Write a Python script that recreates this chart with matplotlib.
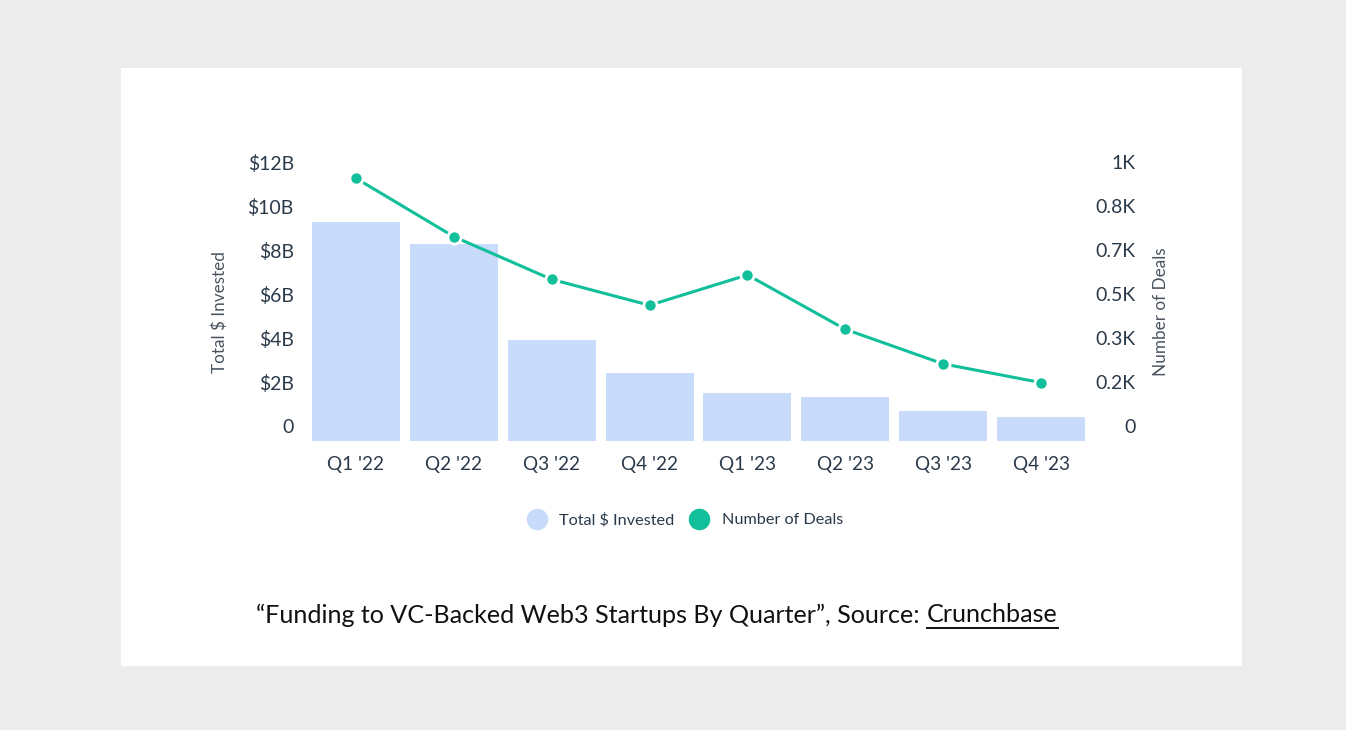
import numpy as np
import matplotlib
matplotlib.use("Agg")
import matplotlib.pyplot as plt
from matplotlib.lines import Line2D
from matplotlib.patches import Rectangle
from matplotlib.transforms import ScaledTranslation

quarters = ["Q1 '22", "Q2 '22", "Q3 '22", "Q4 '22", "Q1 '23", "Q2 '23", "Q3 '23", "Q4 '23"]
invested_b = [9.95, 8.93, 4.58, 3.06, 2.15, 2.0, 1.36, 1.06]
deals = [994, 773, 611, 513, 628, 422, 291, 220]
left_ticks = [0, 2, 4, 6, 8, 10, 12]
left_labels = ["0", "$2B", "$4B", "$6B", "$8B", "$10B", "$12B"]
right_ticks = list(np.linspace(0, 1000, 7))

W, H = 1346, 730
plt.rcParams['font.family'] = ['Lato', 'DejaVu Sans']
txt = '#2b3a4a'
bar_c = '#c9dbfb'
line_c = '#12bf9b'

fig = plt.figure(figsize=(W / 100, H / 100), dpi=100, facecolor='#ececec')
fig.patches.append(Rectangle((121 / W, 1 - 666 / H), (1242 - 121) / W, (666 - 68) / H,
                             transform=fig.transFigure, facecolor='white', edgecolor='none', zorder=-5))

ax = fig.add_axes([307 / W, 1 - 440.7 / H, 783 / W, 264 / H])
ax.patch.set_alpha(0)
x = np.arange(len(quarters))
ax.bar(x, invested_b, width=0.9, color=bar_c, zorder=1)
ax.set_xlim(-0.5, len(quarters) - 0.5)
ax.set_ylim(0, 12)
ax.set_xticks(x)
ax.set_xticklabels(quarters, fontsize=13.7, color=txt)
ax.set_yticks(left_ticks)
ax.set_yticklabels(left_labels, fontsize=14, color=txt)
ax.tick_params(axis='x', length=0, pad=11)
ax.tick_params(axis='y', length=0, pad=9.5)
for s in ax.spines.values():
    s.set_visible(False)
ax.set_ylabel("Total $ Invested", fontsize=12.3, color='#4a5560')
ax.yaxis.set_label_coords(-0.101, 0.4875)

ax2 = ax.twinx()
ax2.plot(x, deals, color=line_c, lw=2.2, marker='o', markersize=9.5,
         markeredgecolor='white', markeredgewidth=2, zorder=3, clip_on=False)
ax2.set_ylim(0, 1000)
ax2.set_yticks(right_ticks)


def fmt_k(v):
    k = round(v / 1000, 1)
    if k == 0:
        return "0"
    return (("%.1f" % k).rstrip('0').rstrip('.')) + "K"


ax2.set_yticklabels([fmt_k(v) for v in right_ticks], fontsize=14, color=txt, ha='right')
ax2.tick_params(axis='y', length=0, pad=33)
for s in ax2.spines.values():
    s.set_visible(False)
ax2.set_ylabel("Number of Deals", fontsize=12.3, color='#4a5560')
ax2.yaxis.set_label_coords(1.0805, 0.4875)

# tick labels sit above their tick position
off = ScaledTranslation(0, 14.7 / 100, fig.dpi_scale_trans)
for lab in ax.get_yticklabels() + ax2.get_yticklabels():
    lab.set_transform(lab.get_transform() + off)

handles = [Line2D([], [], ls='none', marker='o', markersize=14.5, color=bar_c),
           Line2D([], [], ls='none', marker='o', markersize=14.5, color=line_c)]
fig.legend(handles, ["Total $ Invested", "Number of Deals"], loc='center',
           bbox_to_anchor=(685 / W, 1 - 520 / H), ncol=2, frameon=False,
           fontsize=11.7, labelcolor=txt, handletextpad=0.8, columnspacing=0.9,
           handlelength=1.2)

# caption with underlined source
r = fig.canvas.get_renderer()
cy = 1 - 615 / H
part1 = "\u201cFunding to VC-Backed Web3 Startups By Quarter\u201d, Source:"
t1 = fig.text(0, cy, part1, fontsize=18.1, color='#111111', va='center')
t2 = fig.text(0, cy, "Crunchbase", fontsize=18.1, color='#111111', va='center')
w1 = t1.get_window_extent(r).width
w2 = t2.get_window_extent(r).width
gap = 7
x0 = 657 - (w1 + gap + w2) / 2
t1.set_x(x0 / W)
t2.set_x((x0 + w1 + gap) / W)
fig.add_artist(Line2D([(x0 + w1 + gap) / W, (x0 + w1 + gap + w2) / W], [1 - 628 / H] * 2,
                      color='#111111', lw=1.4, transform=fig.transFigure))

fig.savefig("out.png", dpi=100, facecolor=fig.get_facecolor())
